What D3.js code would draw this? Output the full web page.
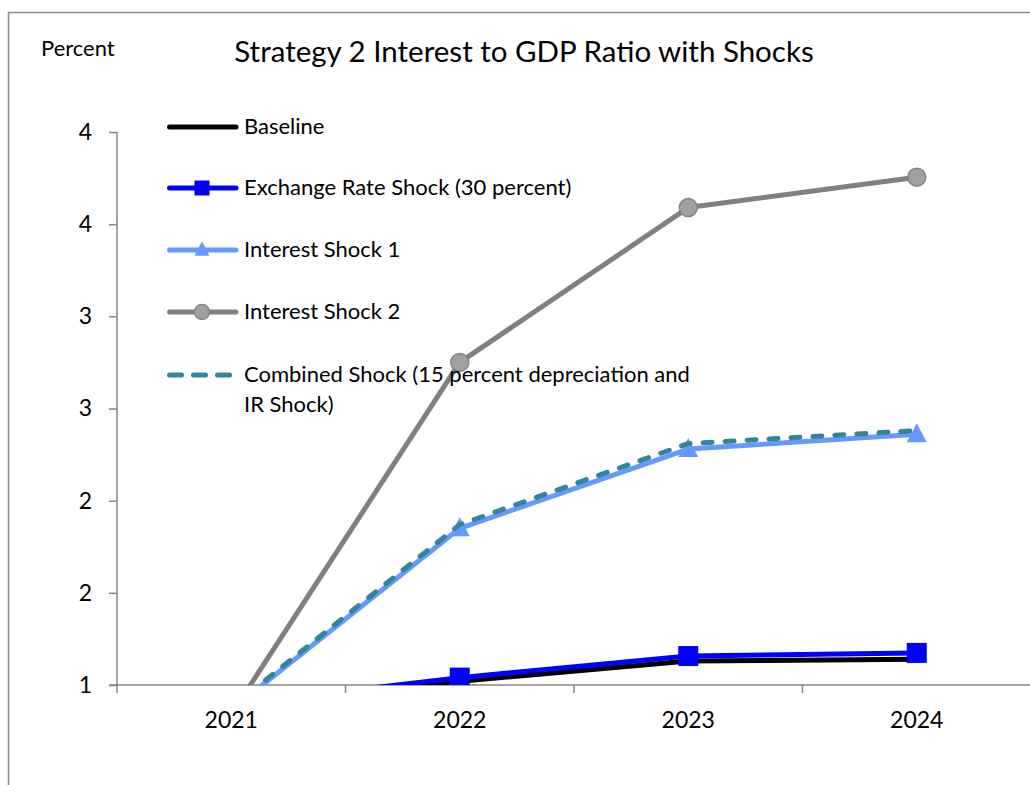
<!DOCTYPE html>
<html>
<head>
<meta charset="utf-8">
<script src="https://cdnjs.cloudflare.com/ajax/libs/d3/7.8.5/d3.min.js"></script>
<style>
  body { margin: 0; background: #fff; }
  svg { display: block; font-family: Lato, "Open Sans", sans-serif; }
</style>
</head>
<body>
<div id="chart"></div>
<script>
// chart data
var years = ["2021", "2022", "2023", "2024"];
var baseline = [0.9, 1.02, 1.13, 1.14];
var exchangeShock = [0.895, 1.04, 1.157, 1.174];
var interestShock1 = [0.866, 1.85, 2.28, 2.36];
var interestShock2 = [0.84, 2.75, 3.59, 3.755];
var combinedShock = [0.878, 1.87, 2.31, 2.38];

var yTicks = [1, 1.5, 2, 2.5, 3, 3.5, 4];
var yTickLabels = ["1", "2", "2", "3", "3", "4", "4"];

var seriesNames = [
  "Baseline",
  "Exchange Rate Shock (30 percent)",
  "Interest Shock 1",
  "Interest Shock 2",
  "Combined Shock (15 percent depreciation and IR Shock)"
];

var svgWidth = 1030;
var svgHeight = 785;
var margin = { top: 132, bottom: 100, left: 117, right: -1 };
var width = svgWidth - margin.left - margin.right;
var height = svgHeight - margin.top - margin.bottom;

var svg = d3.select("#chart")
  .append("svg")
  .attr("width", svgWidth)
  .attr("height", svgHeight);

// outer frame
svg.append("rect")
  .attr("x", 8.5)
  .attr("y", 12.5)
  .attr("width", 1100)
  .attr("height", 1000)
  .attr("fill", "none")
  .attr("stroke", "#8c8c8c")
  .attr("stroke-width", 1.5);

var chartGroup = svg.append("g")
  .attr("transform", `translate(${margin.left}, ${margin.top})`);

var xScale = d3.scaleBand()
  .domain(years)
  .range([0, width]);

var yScale = d3.scaleLinear()
  .domain([1, 4])
  .range([height, 0]);

var xPos = d => xScale(d) + xScale.bandwidth() / 2;

// clip everything below the axis minimum
svg.append("defs").append("clipPath")
  .attr("id", "plotClip")
  .append("rect")
  .attr("x", 0)
  .attr("y", -20)
  .attr("width", width)
  .attr("height", height + 20);

// axes
var yAxis = d3.axisLeft(yScale)
  .tickValues(yTicks)
  .tickFormat((d, i) => yTickLabels[i])
  .tickSize(8)
  .tickPadding(17);

var xAxis = d3.axisBottom(xScale)
  .tickSize(0)
  .tickPadding(27);

var yAxisG = chartGroup.append("g").call(yAxis);
yAxisG.select(".domain").remove();
yAxisG.append("line")
  .attr("x1", 0).attr("x2", 0)
  .attr("y1", 0).attr("y2", height)
  .attr("stroke", "#868686").attr("stroke-width", 1.5);
yAxisG.selectAll(".tick line").attr("stroke", "#868686").attr("stroke-width", 1.5);
yAxisG.selectAll(".tick text")
  .attr("fill", "#000")
  .style("font-size", "23px")
  .style("font-family", "Lato, sans-serif");

var xAxisG = chartGroup.append("g")
  .attr("transform", `translate(0, ${height})`)
  .call(xAxis);
xAxisG.select(".domain").remove();
xAxisG.append("line")
  .attr("x1", -8).attr("x2", width)
  .attr("y1", 0).attr("y2", 0)
  .attr("stroke", "#868686").attr("stroke-width", 1.5);
// category boundary ticks
xAxisG.selectAll(".bound")
  .data(years)
  .enter()
  .append("line")
  .attr("class", "bound")
  .attr("x1", d => xScale(d)).attr("x2", d => xScale(d))
  .attr("y1", 0).attr("y2", 8)
  .attr("stroke", "#868686").attr("stroke-width", 1.5);
xAxisG.selectAll(".tick text")
  .attr("fill", "#000")
  .style("font-size", "23px")
  .style("font-family", "Lato, sans-serif");

// series
var series = [
  { name: seriesNames[0], values: baseline, color: "#000000", marker: "none", dash: null },
  { name: seriesNames[1], values: exchangeShock, color: "#0000ff", marker: "square", dash: null },
  { name: seriesNames[2], values: interestShock1, color: "#6699ff", marker: "triangle", dash: null },
  { name: seriesNames[3], values: interestShock2, color: "#808080", marker: "circle", dash: null },
  { name: seriesNames[4], values: combinedShock, color: "#31859c", marker: "none", dash: "9,13" }
];

var line = d3.line()
  .x((d, i) => xPos(years[i]))
  .y(d => yScale(d));

var plotG = chartGroup.append("g").attr("clip-path", "url(#plotClip)");

function drawMarker(g, type, x, y, size, color) {
  if (type === "square") {
    g.append("rect")
      .attr("x", x - size / 2).attr("y", y - size / 2)
      .attr("width", size).attr("height", size)
      .attr("fill", color);
  } else if (type === "triangle") {
    var h = size * 0.9;
    g.append("path")
      .attr("d", `M${x},${y - h / 2 - 2} L${x + size / 2},${y + h / 2 - 1} L${x - size / 2},${y + h / 2 - 1} Z`)
      .attr("fill", color);
  } else if (type === "circle") {
    g.append("circle")
      .attr("cx", x).attr("cy", y).attr("r", size / 2)
      .attr("fill", "#a0a0a0")
      .attr("stroke", "#848484")
      .attr("stroke-width", 1.5);
  }
}

series.forEach(function(s) {
  plotG.append("path")
    .datum(s.values)
    .attr("d", line)
    .attr("fill", "none")
    .attr("stroke", s.color)
    .attr("stroke-width", 5)
    .attr("stroke-linecap", s.dash ? "round" : "butt")
    .attr("stroke-linejoin", "round")
    .attr("stroke-dasharray", s.dash);

  if (s.marker !== "none") {
    var size = s.marker === "circle" ? 18 : 20;
    s.values.forEach(function(v, i) {
      drawMarker(plotG, s.marker, xPos(years[i]), yScale(v), size, s.color);
    });
  }
});

// legend
var legend = svg.append("g");
var rowY = [127, 188, 250, 312, 375];

series.forEach(function(s, i) {
  var y = rowY[i];
  legend.append("line")
    .attr("x1", 169.5).attr("x2", 236)
    .attr("y1", y).attr("y2", y)
    .attr("stroke", s.color)
    .attr("stroke-width", 5)
    .attr("stroke-linecap", "round")
    .attr("stroke-dasharray", s.dash ? "12,12" : null);
  if (s.marker !== "none") {
    drawMarker(legend, s.marker, 202, y, 15, s.color);
  }
  var t = legend.append("text")
    .attr("x", 244)
    .attr("y", y + 7)
    .style("font-size", "22px")
    .attr("fill", "#000");
  if (i === 4) {
    t.append("tspan").attr("x", 244).text("Combined Shock (15 percent depreciation and");
    t.append("tspan").attr("x", 244).attr("dy", 30).text("IR Shock)");
  } else {
    t.text(s.name);
  }
});

// titles
svg.append("text")
  .attr("x", 524)
  .attr("y", 62)
  .attr("text-anchor", "middle")
  .style("font-size", "29.5px")
  .attr("fill", "#000")
  .text("Strategy 2 Interest to GDP Ratio with Shocks");

svg.append("text")
  .attr("x", 41)
  .attr("y", 56)
  .style("font-size", "22px")
  .attr("fill", "#000")
  .text("Percent");
</script>
</body>
</html>
